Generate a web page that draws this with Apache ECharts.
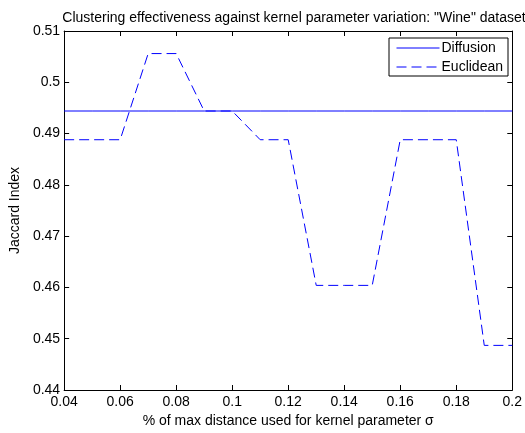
<!DOCTYPE html>
<html><head><meta charset="utf-8">
<script src="https://cdn.jsdelivr.net/npm/echarts@6/dist/echarts.min.js"></script>
<style>html,body{margin:0;padding:0;background:#fff}#c{width:525px;height:433px}</style>
</head><body><div id="c"></div>
<script>
const xValues = [0.04,0.05,0.06,0.07,0.08,0.09,0.10,0.11,0.12,0.13,0.14,0.15,0.16,0.17,0.18,0.19,0.20];
const diffusion = [0.4944,0.4944,0.4944,0.4944,0.4944,0.4944,0.4944,0.4944,0.4944,0.4944,0.4944,0.4944,0.4944,0.4944,0.4944,0.4944,0.4944];
const euclidean = [0.4888,0.4888,0.4888,0.5056,0.5056,0.4944,0.4944,0.4888,0.4888,0.4604,0.4604,0.4604,0.4888,0.4888,0.4888,0.4487,0.4487];
const seriesNames = ['Diffusion','Euclidean'];
const titleText = 'Clustering effectiveness against kernel parameter variation: "Wine" dataset';
const xName = '% of max distance used for kernel parameter σ';
const yName = 'Jaccard Index';

const font = 'Liberation Sans, Arial, Helvetica, sans-serif';
const chart = echarts.init(document.getElementById('c'), null, {renderer:'canvas'});
const tickStyle = {show:true, inside:true, length:5, lineStyle:{color:'#000', width:1}};
const axLine = {show:true, onZero:false, lineStyle:{color:'#000', width:1}};
chart.setOption({
  animation:false,
  backgroundColor:'#fff',
  title:{text:titleText, left:289, textAlign:'center', top:6,
    textStyle:{fontFamily:font, fontSize:14, fontWeight:'normal', color:'#000'}},
  grid:{left:57, right:8, top:31, bottom:39, containLabel:false},
  legend:{
    data:[{name:seriesNames[0]},{name:seriesNames[1]}],
    orient:'vertical', right:17, top:38,
    backgroundColor:'#fff', borderColor:'#000', borderWidth:1, borderRadius:0,
    padding:[3,5,2,7], itemGap:5, itemWidth:43, itemHeight:14,
    itemStyle:{color:'rgba(0,0,0,0)', borderWidth:0, opacity:0},
    lineStyle:{width:1},
    textStyle:{fontFamily:font, fontSize:14, color:'#000', padding:[0,0,0,-3]}
  },
  xAxis:[
    {type:'value', min:0.04, max:0.2, interval:0.02, position:'bottom',
      axisLine:axLine, axisTick:tickStyle, splitLine:{show:false},
      axisLabel:{fontFamily:font, fontSize:14, color:'#000', margin:5},
      name:xName, nameLocation:'middle', nameGap:24,
      nameTextStyle:{fontFamily:font, fontSize:14, color:'#000'}},
    {type:'value', min:0.04, max:0.2, interval:0.02, position:'top',
      axisLine:axLine, axisTick:tickStyle, axisLabel:{show:false}, splitLine:{show:false}}
  ],
  yAxis:[
    {type:'value', min:0.44, max:0.51, interval:0.01, position:'left',
      axisLine:axLine, axisTick:tickStyle, splitLine:{show:false},
      axisLabel:{fontFamily:font, fontSize:14, color:'#000', margin:4},
      name:yName, nameLocation:'middle', nameGap:38,
      nameTextStyle:{fontFamily:font, fontSize:14, color:'#000'}},
    {type:'value', min:0.44, max:0.51, interval:0.01, position:'right',
      axisLine:axLine, axisTick:tickStyle, axisLabel:{show:false}, splitLine:{show:false}}
  ],
  series:[
    {name:seriesNames[0], type:'line', symbol:'none', silent:true,
      data:xValues.map((x,i)=>[x,diffusion[i]]),
      lineStyle:{color:'#0000ff', width:1, type:'solid'}, itemStyle:{color:'#0000ff'}},
    {name:seriesNames[1], type:'line', symbol:'none', silent:true,
      data:xValues.map((x,i)=>[x,euclidean[i]]),
      lineStyle:{color:'#0000ff', width:1, type:[10,5]}, itemStyle:{color:'#0000ff'}}
  ]
});
</script></body></html>
